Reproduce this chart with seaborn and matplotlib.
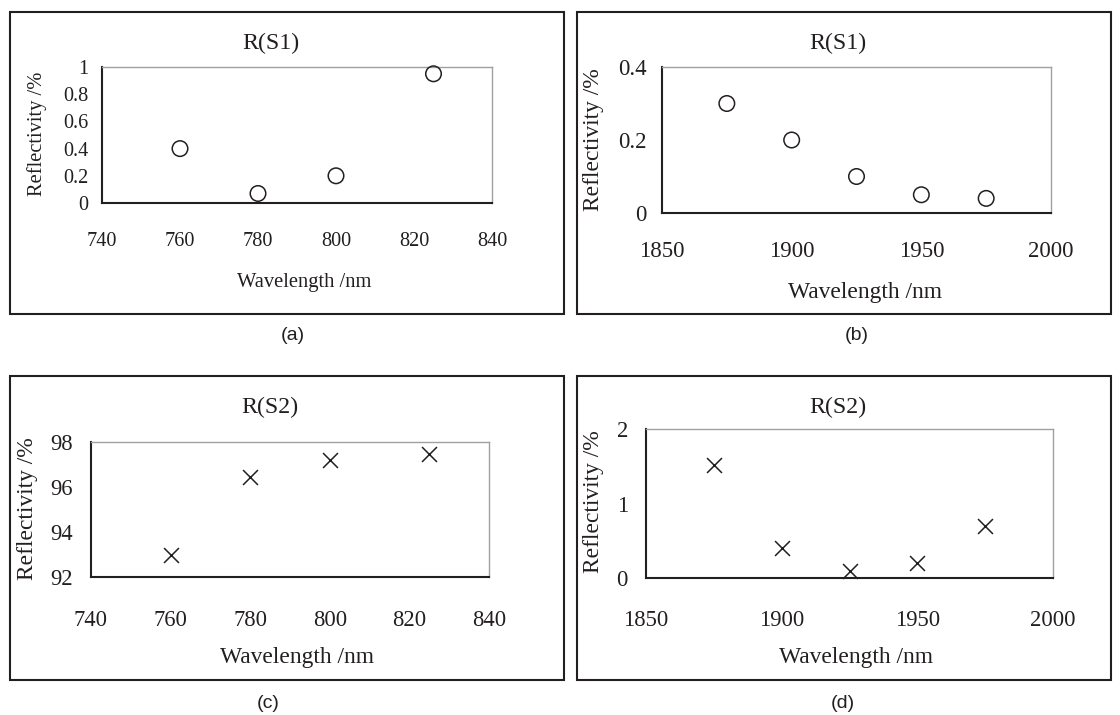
import matplotlib
matplotlib.use("Agg")
import matplotlib.pyplot as plt
from matplotlib.patches import Rectangle
from matplotlib.ticker import FuncFormatter
import seaborn as sns
import pandas as pd

# ---------------- data ----------------
wl_short = [760, 780, 800, 825]
wl_long = [1875, 1900, 1925, 1950, 1975]
r_s1_short = [0.40, 0.07, 0.20, 0.95]
r_s1_long = [0.30, 0.20, 0.10, 0.05, 0.04]
r_s2_short = [93.0, 96.45, 97.2, 97.48]
r_s2_long = [1.52, 0.40, 0.10, 0.20, 0.70]

xticks_short = [740, 760, 780, 800, 820, 840]
xticks_long = [1850, 1900, 1950, 2000]
yticks_a = [0, 0.2, 0.4, 0.6, 0.8, 1]
yticks_b = [0, 0.2, 0.4]
yticks_c = [92, 94, 96, 98]
yticks_d = [0, 1, 2]

titles = ["R(S1)", "R(S1)", "R(S2)", "R(S2)"]
panel_tags = ["(a)", "(b)", "(c)", "(d)"]
xlabel = "Wavelength /nm"
ylabel = "Reflectivity /%"

sns.set_style("white")
plt.rcParams["font.family"] = ["Liberation Serif", "DejaVu Serif"]

W, H = 1120, 715
fig = plt.figure(figsize=(W / 100, H / 100), dpi=100)
DARK = "#231f20"


def ax_rect(l, t, r, b):
    return [l / W, 1 - b / H, (r - l) / W, (b - t) / H]


def fx(x):
    return x / W


def fy(y):
    return 1 - y / H


# frames around each panel
for (l, t, r, b) in [(10, 12, 564, 314), (577, 12, 1111, 314),
                     (10, 376, 564, 680), (577, 376, 1111, 680)]:
    fig.patches.append(Rectangle((fx(l), fy(b)), fx(r) - fx(l), fy(t) - fy(b),
                                 transform=fig.transFigure, fill=False,
                                 edgecolor=DARK, linewidth=1.5))

panels = [
    dict(rect=(102, 67, 492, 203), x=wl_short, y=r_s1_short, marker="o",
         xlim=(740, 840), xt=xticks_short, ylim=(0, 1), yt=yticks_a,
         tfs=14.6, lfs=14.8, xpad=21, ypad=10,
         title=(271, 43), xl=(304, 282), yl=(37, 134), tag=(293, 336)),
    dict(rect=(662, 67, 1051, 213), x=wl_long, y=r_s1_long, marker="o",
         xlim=(1850, 2000), xt=xticks_long, ylim=(0, 0.4), yt=yticks_b,
         tfs=16.5, lfs=16.9, xpad=20, ypad=11,
         title=(838, 43), xl=(865, 293), yl=(593, 140), tag=(857, 336)),
    dict(rect=(91, 442, 489, 577), x=wl_short, y=r_s2_short, marker="x",
         xlim=(740, 840), xt=xticks_short, ylim=(92, 98), yt=yticks_c,
         tfs=16.3, lfs=16.9, xpad=23.5, ypad=13,
         title=(270, 407), xl=(297, 658), yl=(28, 509), tag=(268, 703)),
    dict(rect=(646, 429, 1053, 578), x=wl_long, y=r_s2_long, marker="x",
         xlim=(1850, 2000), xt=xticks_long, ylim=(0, 2), yt=yticks_d,
         tfs=16.3, lfs=16.9, xpad=23, ypad=13,
         title=(838, 407), xl=(856, 658), yl=(593, 502), tag=(843, 703)),
]

fmt = FuncFormatter(lambda v, p: f"{v:g}")

for i, p in enumerate(panels):
    ax = fig.add_axes(ax_rect(*p["rect"]))
    df = pd.DataFrame({"wl": p["x"], "r": p["y"]})
    if p["marker"] == "o":
        sns.scatterplot(data=df, x="wl", y="r", ax=ax, marker="o", s=125,
                        facecolor="none", edgecolor=DARK, linewidth=1.1,
                        clip_on=False, zorder=5)
    else:
        sns.scatterplot(data=df, x="wl", y="r", ax=ax, marker="x", s=115,
                        color=DARK, linewidth=1.1, clip_on=False, zorder=5)
    ax.set_xlim(*p["xlim"])
    ax.set_ylim(*p["ylim"])
    ax.set_xticks(p["xt"])
    ax.set_yticks(p["yt"])
    ax.xaxis.set_major_formatter(fmt)
    ax.yaxis.set_major_formatter(fmt)
    ax.set_xlabel("")
    ax.set_ylabel("")
    ax.tick_params(axis="both", direction="in", length=5.5, width=1,
                   color=DARK, labelsize=p["tfs"], labelcolor=DARK)
    ax.tick_params(axis="x", pad=p["xpad"], top=False)
    ax.tick_params(axis="y", pad=p["ypad"], right=False)
    ax.spines["left"].set_color(DARK)
    ax.spines["bottom"].set_color(DARK)
    ax.spines["left"].set_linewidth(1.5)
    ax.spines["bottom"].set_linewidth(1.5)
    for s in ("top", "right"):
        ax.spines[s].set_color("#a0a0a0")
        ax.spines[s].set_linewidth(1.0)
    ax.grid(False)
    ax.set_facecolor("white")

    fig.text(fx(p["title"][0]), fy(p["title"][1]), titles[i], ha="center",
             va="center", fontsize=17.2, color=DARK)
    fig.text(fx(p["xl"][0]), fy(p["xl"][1]), xlabel, ha="center",
             va="center", fontsize=p["lfs"], color=DARK)
    fig.text(fx(p["yl"][0]), fy(p["yl"][1]), ylabel, ha="center",
             va="center", rotation=90, fontsize=p["lfs"], color=DARK)
    fig.text(fx(p["tag"][0]), fy(p["tag"][1]), panel_tags[i], ha="center",
             va="center", fontsize=14, color=DARK,
             family=["Liberation Sans", "DejaVu Sans"])

fig.savefig("out.png", dpi=100, facecolor="white")
